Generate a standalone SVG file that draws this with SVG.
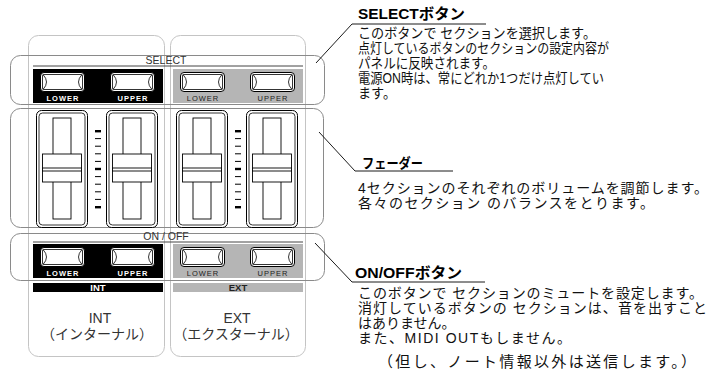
<svg xmlns="http://www.w3.org/2000/svg" xmlns:xlink="http://www.w3.org/1999/xlink" width="714" height="385" viewBox="0 0 714 385">
<style>
.col{fill:none;stroke:#c4c4c4;stroke-width:1}
.sec{fill:none;stroke:#8a8a8a;stroke-width:1}
.hdr{stroke:#444;stroke-width:1}
.hdrt{font-family:"Liberation Sans",Arial,sans-serif;font-size:10.5px;fill:#333;text-anchor:middle}
.blk{fill:#000}
.gry{fill:#b5b5b5}
.lblw{font-family:"Liberation Sans",Arial,sans-serif;font-size:7.5px;font-weight:bold;fill:#fff;text-anchor:middle;letter-spacing:1px}
.lblg{font-family:"Liberation Sans",Arial,sans-serif;font-size:7.5px;fill:#222;text-anchor:middle;letter-spacing:1px}
.barw{font-family:"Liberation Sans",Arial,sans-serif;font-size:9.5px;font-weight:bold;fill:#fff;text-anchor:middle}
.barg{font-family:"Liberation Sans",Arial,sans-serif;font-size:9.5px;font-weight:bold;fill:#222;text-anchor:middle}
.bot{font-family:"Liberation Sans","Noto Sans CJK JP",sans-serif;font-size:14px;fill:#333;text-anchor:middle}
.ttl{font-family:"Liberation Sans","Noto Sans CJK JP",sans-serif;font-size:15px;font-weight:bold;fill:#000}
.ttl2{font-family:"Liberation Sans","Noto Sans CJK JP",sans-serif;font-size:13.5px;font-weight:bold;fill:#000}
.bodys{font-family:"Liberation Sans","Noto Sans CJK JP",sans-serif;font-size:14px;fill:#111}
.body{font-family:"Liberation Sans","Noto Sans CJK JP",sans-serif;font-size:14px;fill:#111}
.lead{fill:none;stroke:#000;stroke-width:0.9}
</style>
<defs>
<g id="btn">
<rect x="0.5" y="0.5" width="44" height="19" rx="3.5" fill="#fff" stroke="#000" stroke-width="1"/>
<rect x="2.5" y="2.5" width="40" height="15" rx="1.5" fill="none" stroke="#000" stroke-width="0.8"/>
<path d="M3,2.5 Q10,10 3,17.5 M42,2.5 Q35,10 42,17.5" fill="none" stroke="#000" stroke-width="0.8"/>
</g>
<g id="fader">
<rect x="0.5" y="0.5" width="51" height="117" rx="5" fill="#fff" stroke="#000" stroke-width="1"/>
<rect x="3" y="3" width="46" height="112" rx="3.5" fill="none" stroke="#000" stroke-width="0.8"/>
<rect x="17" y="8" width="18" height="101" fill="#fff" stroke="#000" stroke-width="0.9"/>
<rect x="6.5" y="44" width="39" height="28" fill="#fff" stroke="#000" stroke-width="0.9"/>
<rect x="6.5" y="58" width="39" height="3" fill="#fff" stroke="#000" stroke-width="0.9"/>
</g>
<g id="marks">
<rect x="0" y="130" width="6" height="2.4" fill="#000"/>
<rect x="0" y="138.1" width="6" height="1" fill="#000"/>
<rect x="0" y="145.7" width="6" height="1" fill="#000"/>
<rect x="0" y="153.3" width="6" height="1" fill="#000"/>
<rect x="0" y="160.9" width="6" height="1" fill="#000"/>
<rect x="0" y="167.8" width="6" height="2.4" fill="#000"/>
<rect x="0" y="176.1" width="6" height="1" fill="#000"/>
<rect x="0" y="183.7" width="6" height="1" fill="#000"/>
<rect x="0" y="191.3" width="6" height="1" fill="#000"/>
<rect x="0" y="198.9" width="6" height="1" fill="#000"/>
<rect x="0" y="206" width="6" height="2.4" fill="#000"/>
</g>
</defs>
<rect width="714" height="385" fill="#fff"/>

<g id="int-column">
<rect class="col" x="28.5" y="35.5" width="136" height="321" rx="10"/>
<text class="bot" x="100" y="323">INT</text>
<text class="bot" x="97" y="339">（インターナル）</text>
</g>
<g id="ext-column">
<rect class="col" x="170.5" y="35.5" width="135" height="321" rx="10"/>
<text class="bot" x="237" y="323">EXT</text>
<text class="bot" x="236" y="339">（エクスターナル）</text>
</g>

<g id="select-section">
<rect class="sec" x="10.5" y="55.5" width="314" height="49" rx="10"/>
<line class="hdr" x1="33" y1="66" x2="303" y2="66"/>
<text class="hdrt" x="166" y="64">SELECT</text>
<rect class="blk" x="33" y="69" width="130" height="34"/>
<rect class="gry" x="173" y="69" width="130" height="34"/>
<use xlink:href="#btn" x="40" y="72"/>
<use xlink:href="#btn" x="110" y="72"/>
<use xlink:href="#btn" x="180" y="72"/>
<use xlink:href="#btn" x="250" y="72"/>
<text class="lblw" x="63" y="101">LOWER</text>
<text class="lblw" x="133" y="101">UPPER</text>
<text class="lblg" x="203" y="101">LOWER</text>
<text class="lblg" x="273" y="101">UPPER</text>
</g>

<g id="fader-section">
<rect class="sec" x="10.5" y="108.5" width="313" height="119" rx="10"/>
<use xlink:href="#fader" x="36" y="110"/>
<use xlink:href="#fader" x="106" y="110"/>
<use xlink:href="#fader" x="176" y="110"/>
<use xlink:href="#fader" x="246" y="110"/>
<use xlink:href="#marks" x="95" y="0"/>
<use xlink:href="#marks" x="235" y="0"/>
</g>

<g id="onoff-section">
<rect class="sec" x="10.5" y="233.5" width="314" height="47" rx="10"/>
<line class="hdr" x1="33" y1="242" x2="303" y2="242"/>
<text class="hdrt" x="166" y="240">ON / OFF</text>
<rect class="blk" x="33" y="244" width="130" height="34"/>
<rect class="gry" x="173" y="244" width="130" height="34"/>
<use xlink:href="#btn" x="40" y="247"/>
<use xlink:href="#btn" x="110" y="247"/>
<use xlink:href="#btn" x="180" y="247"/>
<use xlink:href="#btn" x="250" y="247"/>
<text class="lblw" x="63" y="276">LOWER</text>
<text class="lblw" x="133" y="276">UPPER</text>
<text class="lblg" x="203" y="276">LOWER</text>
<text class="lblg" x="273" y="276">UPPER</text>
</g>

<g id="int-bar">
<rect class="blk" x="33" y="283" width="130" height="9"/>
<text class="barw" x="98" y="291">INT</text>
</g>
<g id="ext-bar">
<rect class="gry" x="173" y="283" width="130" height="9"/>
<text class="barg" x="238" y="291">EXT</text>
</g>

<g id="connectors">
<path class="lead" d="M486,24 H352 L316,63"/>
<path class="lead" d="M453,171 H355 L319,132"/>
<path class="lead" d="M485,282 H352 L315,243"/>
</g>

<g id="select-note">
<text class="ttl" x="358" y="19" textLength="107" lengthAdjust="spacingAndGlyphs">SELECTボタン</text>
<text class="bodys" x="358" y="38" textLength="238" lengthAdjust="spacingAndGlyphs">このボタンで セクションを選択します。</text>
<text class="bodys" x="358" y="53" textLength="251" lengthAdjust="spacingAndGlyphs">点灯しているボタンのセクションの設定内容が</text>
<text class="bodys" x="358" y="68" textLength="137" lengthAdjust="spacingAndGlyphs">パネルに反映されます。</text>
<text class="bodys" x="358" y="83" textLength="246" lengthAdjust="spacingAndGlyphs">電源ON時は、常にどれか1つだけ点灯してい</text>
<text class="bodys" x="358" y="98" textLength="38" lengthAdjust="spacingAndGlyphs">ます。</text>
</g>

<g id="fader-note">
<text class="ttl2" x="362" y="168" textLength="61" lengthAdjust="spacingAndGlyphs">フェーダー</text>
<text class="body" x="358" y="193" textLength="350">4セクションのそれぞれのボリュームを調節します。</text>
<text class="body" x="358" y="208" textLength="296">各々のセクション のバランスをとります。</text>
</g>

<g id="onoff-note">
<text class="ttl" x="355" y="278" textLength="107" lengthAdjust="spacingAndGlyphs">ON/OFFボタン</text>
<text class="body" x="358" y="298" textLength="345">このボタンで セクションのミュートを設定します。</text>
<text class="body" x="358" y="313" textLength="349">消灯しているボタンの セクションは、音を出すこと</text>
<text class="body" x="358" y="328">はありません。</text>
<text class="body" x="358" y="343" textLength="213">また、MIDI OUTもしません。</text>
<text class="body" x="378" y="367" style="font-size:15px" textLength="318">（但し、ノート情報以外は送信します。）</text>
</g>
</svg>
